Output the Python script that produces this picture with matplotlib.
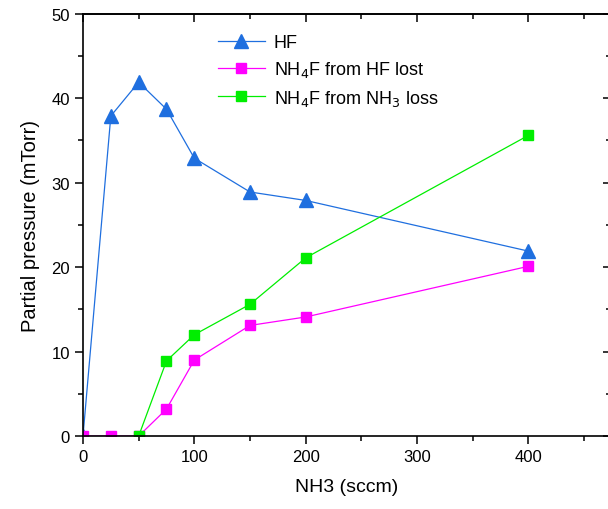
import matplotlib.pyplot as plt
from matplotlib.ticker import MultipleLocator

plt.rcParams['font.family'] = ['Liberation Sans', 'DejaVu Sans']

x_hf = [0, 25, 50, 75, 100, 150, 200, 400]
hf = [0, 37.9, 41.9, 38.7, 32.9, 28.9, 27.9, 21.9]

x_hf_lost = [0, 25, 50, 75, 100, 150, 200, 400]
nh4f_hf = [0, 0, 0, 3.2, 9.0, 13.1, 14.1, 20.1]

x_nh3_loss = [50, 75, 100, 150, 200, 400]
nh4f_nh3 = [0, 8.9, 12.0, 15.6, 21.1, 35.6]

fig = plt.figure(figsize=(6.08, 5.10), dpi=100)
ax = fig.add_axes([0.1365, 0.143, 0.868, 0.828])

ax.plot(x_hf, hf, color="#1f6fdf", lw=0.9, marker="^", ms=10, label="HF")
ax.plot(x_hf_lost, nh4f_hf, color="#ff00ff", lw=0.9, marker="s", ms=7.5,
        label="NH$_4$F from HF lost")
ax.plot(x_nh3_loss, nh4f_nh3, color="#00ee00", lw=0.9, marker="s", ms=7.5,
        label="NH$_4$F from NH$_3$ loss")

ax.set_xlim(0, 474)
ax.set_ylim(0, 50)
ax.xaxis.set_major_locator(MultipleLocator(100))
ax.xaxis.set_minor_locator(MultipleLocator(50))
ax.yaxis.set_major_locator(MultipleLocator(10))
ax.yaxis.set_minor_locator(MultipleLocator(5))
ax.tick_params(which="both", labelsize=12, width=1.1)
ax.tick_params(which="major", length=6)
ax.tick_params(which="minor", length=3.5)

# mirrored ticks on top and right, pointing inward
axt = ax.secondary_xaxis("top")
axt.xaxis.set_major_locator(MultipleLocator(100))
axt.xaxis.set_minor_locator(MultipleLocator(50))
axt.tick_params(which="both", direction="in", labeltop=False, width=1.1)
axt.tick_params(which="major", length=6)
axt.tick_params(which="minor", length=3.5)
axr = ax.secondary_yaxis("right")
axr.yaxis.set_major_locator(MultipleLocator(10))
axr.yaxis.set_minor_locator(MultipleLocator(5))
axr.tick_params(which="both", direction="in", labelright=False, width=1.1)
axr.tick_params(which="major", length=6)
axr.tick_params(which="minor", length=3.5)

for s in ax.spines.values():
    s.set_linewidth(1.2)
axt.spines["top"].set_linewidth(1.2)
axr.spines["right"].set_linewidth(1.2)

ax.set_xlabel("NH3 (sccm)", fontsize=14, labelpad=10)
ax.set_ylabel("Partial pressure (mTorr)", fontsize=14.5, labelpad=8)

ax.legend(loc="upper left", bbox_to_anchor=(0.225, 0.99), frameon=False,
          fontsize=13, handlelength=2.6, labelspacing=0.45, handletextpad=0.5)

fig.savefig("out.png", dpi=100)
